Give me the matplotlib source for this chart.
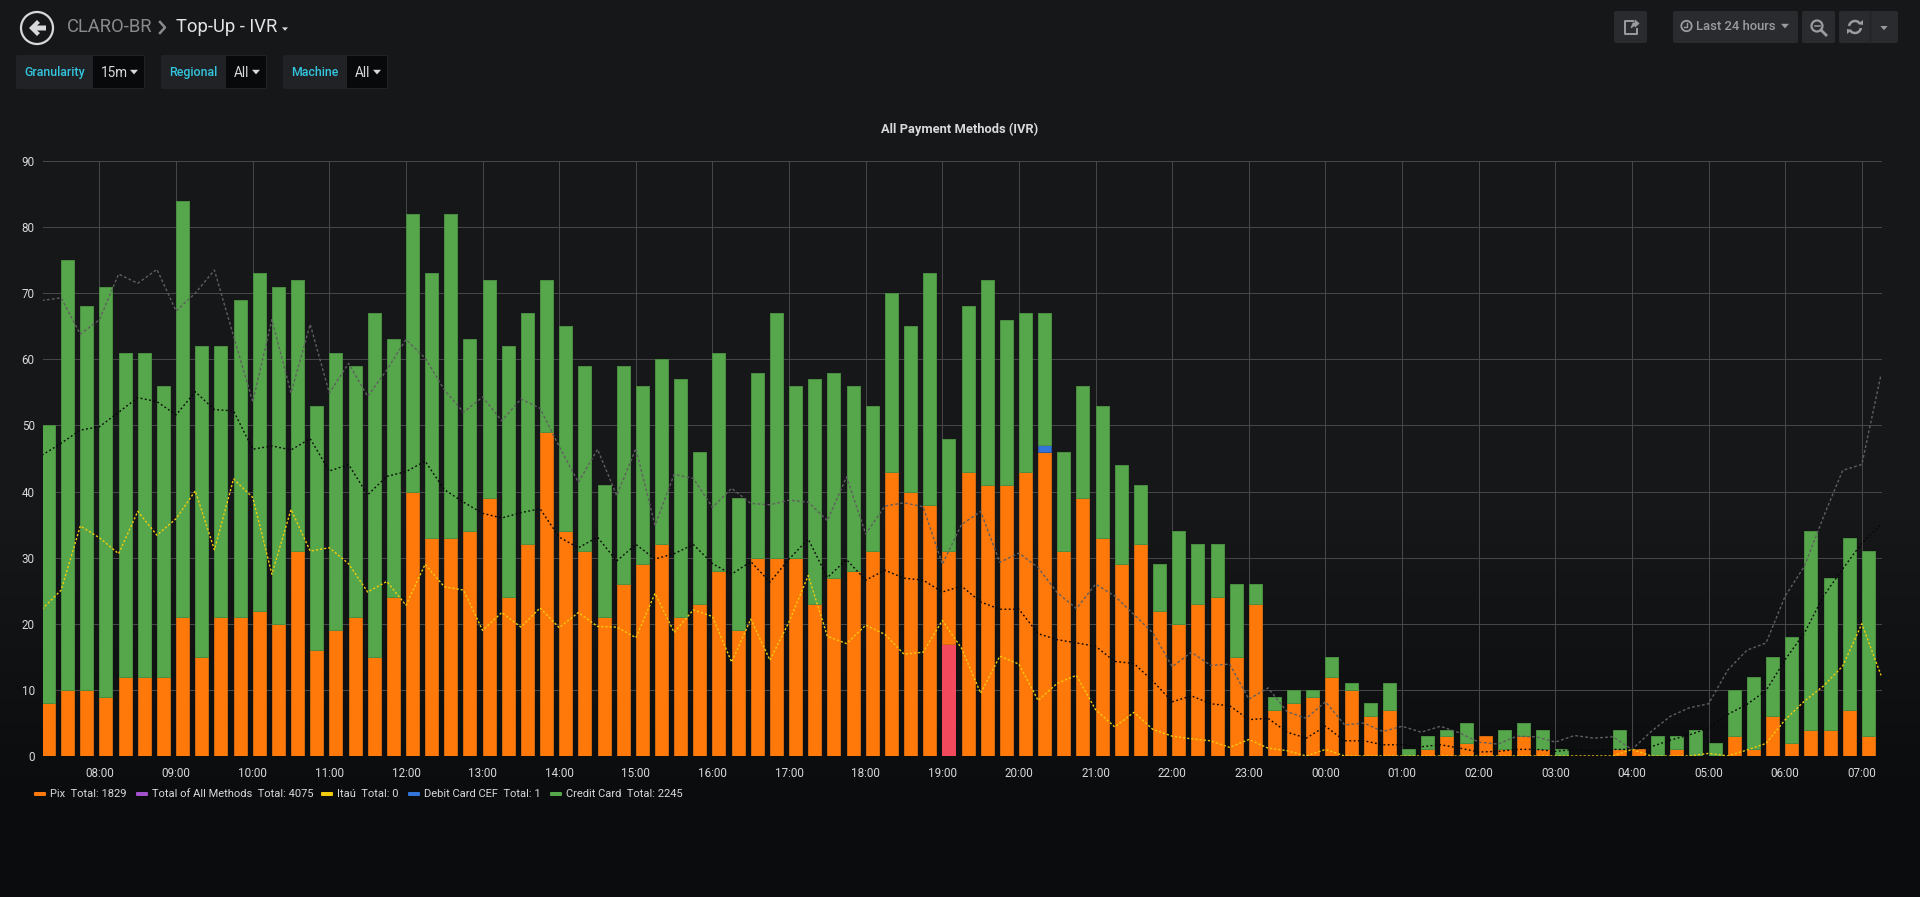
import numpy as np
import matplotlib
matplotlib.use("Agg")
import matplotlib.pyplot as plt
from matplotlib.patches import Rectangle, FancyBboxPatch, Polygon, Circle, Arc

plt.rcParams['font.family'] = ['Roboto', 'DejaVu Sans']

W, H = 1920, 897

# 15 minute buckets, 07:15 -> 07:00 next day
pix = [8, 10, 10, 9, 12, 12, 12, 21, 15, 21, 21, 22, 20, 31, 16, 19, 21, 15, 24, 40,
       33, 33, 34, 39, 24, 32, 49, 34, 31, 21, 26, 29, 32, 21, 23, 28, 19, 30, 30, 30,
       23, 27, 28, 31, 43, 40, 38, 14, 43, 41, 41, 43, 46, 31, 39, 33, 29, 32, 22, 20,
       23, 24, 15, 23, 7, 8, 9, 12, 10, 6, 7, 0, 1, 3, 2, 3, 1, 3, 1, 0,
       0, 0, 1, 1, 0, 1, 0, 0, 3, 1, 6, 2, 4, 4, 7, 3]
pink = [0] * 47 + [17] + [0] * 48
debit_cef = [0] * 52 + [1] + [0] * 43
bar_tops = [50, 75, 68, 71, 61, 61, 56, 84, 62, 62, 69, 73, 71, 72, 53, 61, 59, 67, 63, 82,
            73, 82, 63, 72, 62, 67, 72, 65, 59, 41, 59, 56, 60, 57, 46, 61, 39, 58, 67, 56,
            57, 58, 56, 53, 70, 65, 73, 48, 68, 72, 66, 67, 67, 46, 56, 53, 44, 41, 29, 34,
            32, 32, 26, 26, 9, 10, 10, 15, 11, 8, 11, 1, 3, 4, 5, 3, 4, 5, 4, 1,
            0, 0, 4, 1, 3, 3, 4, 2, 10, 12, 15, 18, 34, 27, 33, 31]

# comparison lines, one more point than bars (they run to 07:15)
grey_line = [68.9, 69.3, 63.8, 66, 72.9, 71.5, 73.6, 67.3, 70, 73.5, 63.5, 53.6, 66, 54.9, 65.3, 54.9,
             59.4, 54.4, 58.4, 63, 60.2, 55.4, 52, 54.3, 50.7, 54, 52.6, 46.8, 41.4, 46.4, 39.4, 46.5,
             34.9, 42.6, 42, 37.6, 40.5, 38.2, 38, 38.7, 38.4, 35.6, 42.2, 33.6, 37.8, 38.3, 37.7, 29,
             35, 37, 29.3, 30.7, 28.5, 24.7, 22.3, 26, 24.2, 21.4, 18.6, 13.5, 15.7, 13.7, 13.9, 8.6,
             10.3, 6.7, 5.7, 8.2, 4.7, 5, 3.7, 4.5, 3.6, 4.5, 3.5, 2.1, 1.8, 3, 2.9, 2.1,
             3.1, 2.7, 2.9, 1, 3.7, 6, 7.3, 7.9, 13, 16, 17.1, 24.2, 28.7, 36.2, 43.2, 44.1, 57.7]
black_line = [45.5, 47.3, 49.3, 49.8, 52, 54.2, 53.6, 51.6, 55.1, 52.4, 52.2, 46.4, 46.9, 46.3, 48, 43.1,
              44.1, 39.5, 42.3, 43, 44.6, 40.3, 38.4, 36.7, 36, 36.8, 37.4, 33.1, 31.5, 33.1, 29.5, 32,
              29.8, 30.6, 32, 29.1, 27.5, 29.4, 26.3, 29.8, 32.8, 27, 29.7, 26.6, 28.1, 26.9, 26.6, 24.8,
              25.7, 23.3, 22.2, 22.2, 18.5, 17.6, 17.1, 16.6, 14.3, 14, 11.3, 8.2, 9.1, 7.9, 7.6, 5.5,
              5.7, 3.6, 2.7, 4.5, 2.3, 2.3, 1.7, 1.7, 1.4, 1.7, 1.2, 0.6, 0.7, 1, 1, 0.7,
              1, 0.8, 1, 1, 1.4, 2.4, 3.2, 4.2, 6.3, 7.8, 9.9, 14.6, 18.6, 24.2, 28.3, 32.2, 35]
yellow_line = [22.2, 25.1, 34.8, 33, 30.6, 37, 33.4, 35.9, 40.1, 31.2, 41.9, 39.1, 27.5, 37.3, 31, 31.5,
               29.1, 24.8, 26.4, 22.8, 29, 25.6, 25.1, 19, 21.7, 19.5, 22.4, 19.4, 21.7, 19.6, 19.5, 17.9,
               24.6, 18.7, 22.1, 21.1, 14.2, 20.7, 14.5, 20.3, 27.3, 18.1, 17, 19.8, 18.4, 15.4, 15.7, 20.5,
               16.3, 9.5, 15.1, 13.9, 8.4, 11, 12.2, 7, 4.4, 6.6, 4, 3, 2.6, 2.3, 1.3, 2.5,
               1.2, 0.8, 0, 1, 0, 0, 0, 0, 0, 0, 0, 0, 0, 0, 0, 0,
               0, 0, 0, 1, 0, 0, 0, 0.4, 0, 0.9, 1.9, 5.5, 8.3, 10.6, 13.6, 20, 12.2]

hour_ticks = list(range(8, 32))
hour_labels = [f"{h % 24:02d}:00" for h in hour_ticks]
y_ticks = list(range(0, 100, 10))

legend_items = [("Pix  Total: 1829", "#ff780a", 34, 50),
                ("Total of All Methods  Total: 4075", "#a352cc", 136, 152),
                ("Itaú  Total: 0", "#f2cc0c", 321, 337),
                ("Debit Card CEF  Total: 1", "#3274d9", 408, 424),
                ("Credit Card  Total: 2245", "#56a64b", 550, 566)]

TEXT = "#d8d9da"
GREEN, ORANGE, BLUE, RED = "#56a64b", "#ff780a", "#3274d9", "#f2495c"
GREEN_EDGE, ORANGE_EDGE, BLUE_EDGE, RED_EDGE = "#4a8f42", "#d06a10", "#2a5aa5", "#f2495c"


def px(x, y, w, h):
    return [x / W, 1 - (y + h) / H, w / W, h / H]


def caret(ui, x, y, size, color):
    ui.add_patch(Polygon([(x - size, y - size * 0.55), (x + size, y - size * 0.55), (x, y + size * 0.6)],
                         closed=True, fc=color, ec="none"))


def button(ui, x0, x1, y0, y1, color):
    ui.add_patch(FancyBboxPatch((x0 + 2, y0 + 2), x1 - x0 - 4, y1 - y0 - 4, boxstyle="round,pad=2",
                                fc=color, ec="none"))


def draw_header(ui):
    # back button
    ui.add_patch(Circle((37, 28), 16, fc="none", ec=TEXT, lw=1.6))
    ui.add_patch(Polygon([(29, 28), (37, 20), (40, 23), (37, 25.5), (46, 25.5), (46, 30.5), (37, 30.5),
                          (40, 33), (37, 36)], closed=True, fc=TEXT, ec="none"))
    ui.text(67, 27, "CLARO-BR", color="#8a8b8d", fontsize=13.2, va="center")
    ui.plot([160, 165, 160], [22, 27.5, 33], color="#8a8b8d", lw=1.8)
    ui.text(176, 27, "Top-Up - IVR", color="#e3e4e5", fontsize=13.2, va="center")
    caret(ui, 285, 29, 3, TEXT)

    # template variables
    for name, value, x0, x1, x2, tx in [("Granularity", "15m", 16, 93, 145, 101),
                                        ("Regional", "All", 161, 226, 267, 234),
                                        ("Machine", "All", 283, 347, 388, 355)]:
        button(ui, x0, x2, 55, 89, "#212226")
        ui.add_patch(Rectangle((x1, 56), x2 - x1 - 1, 32, fc="#08090b", ec="none"))
        ui.text(x0 + 8.5, 72.5, name, color="#33c5dd", fontsize=8.9, fontweight="medium", va="center")
        ui.text(tx, 73, value, color=TEXT, fontsize=9.8, va="center")
        caret(ui, x2 - 11, 72, 4, TEXT)

    # top right buttons
    grey = "#9b9c9e"
    button(ui, 1614, 1647, 11, 43, "#2a2b2f")
    button(ui, 1673, 1798, 11, 43, "#2a2b2f")
    button(ui, 1802, 1835, 11, 43, "#2a2b2f")
    button(ui, 1839, 1898, 11, 43, "#2a2b2f")
    ui.plot([1870, 1870], [11, 43], color="#232427", lw=1)
    # share
    ui.plot([1633, 1625, 1625, 1637, 1637], [21, 21, 34, 34, 29], color=grey, lw=1.4)
    ui.add_patch(Polygon([(1631, 28), (1633, 23), (1635, 23), (1635, 20), (1639, 23.5), (1635, 27), (1635, 25)],
                         closed=True, fc=grey, ec=grey, lw=0.6))
    # clock
    ui.add_patch(Circle((1686.5, 26), 5.2, fc="none", ec=grey, lw=1.3))
    ui.plot([1686.5, 1686.5, 1684], [23, 27, 27], color=grey, lw=1)
    ui.text(1696, 26.5, "Last 24 hours", color=grey, fontsize=9.4, fontweight="medium", va="center")
    caret(ui, 1785, 26, 4, grey)
    # zoom out
    ui.add_patch(Circle((1817, 26), 5.5, fc="none", ec=grey, lw=1.6))
    ui.plot([1814.5, 1819.5], [26, 26], color=grey, lw=1.1)
    ui.plot([1821, 1826], [30, 35], color=grey, lw=2)
    # refresh
    ui.add_patch(Arc((1855, 27), 12, 12, theta1=190, theta2=330, ec=grey, lw=1.8))
    ui.add_patch(Arc((1855, 27), 12, 12, theta1=10, theta2=150, ec=grey, lw=1.8))
    ui.add_patch(Polygon([(1858, 24), (1863, 20), (1863, 25)], closed=True, fc=grey, ec="none"))
    ui.add_patch(Polygon([(1852, 30), (1847, 34), (1847, 29)], closed=True, fc=grey, ec="none"))
    caret(ui, 1884, 28, 3.6, grey)


def draw_legend(ui):
    for label, color, swatch_x, text_x in legend_items:
        ui.add_patch(FancyBboxPatch((swatch_x + 1, 793), 10, 2, boxstyle="round,pad=1", fc=color, ec="none"))
        ui.text(text_x, 794, label, color=TEXT, fontsize=8.05, va="center")


def stacked(ax, t, values, bottoms, width, color, edge):
    vals = np.array(values, dtype=float)
    keep = vals > 0
    ax.bar(t[keep], vals[keep], width=width, bottom=bottoms[keep], align="edge",
           color=color, edgecolor=edge, linewidth=0.7, zorder=3)
    return bottoms + vals


def main():
    fig = plt.figure(figsize=(W / 100, H / 100), dpi=100)
    ui = fig.add_axes([0, 0, 1, 1])
    ui.set_xlim(0, W)
    ui.set_ylim(H, 0)
    ui.axis("off")

    # page gradient, flat at the top and bottom
    shade = np.interp(np.arange(H), [0, 520, 800, H], [0, 0, 1, 1])[:, None, None]
    top = np.array([0x16, 0x17, 0x19]) / 255
    bottom = np.array([0x0b, 0x0c, 0x0e]) / 255
    ui.imshow(top + (bottom - top) * shade, extent=(0, W, H, 0), aspect="auto", zorder=0)

    draw_header(ui)
    draw_legend(ui)
    ui.text(960, 129, "All Payment Methods (IVR)", color=TEXT, fontsize=9.3, fontweight="bold",
            ha="center", va="center")

    ax = fig.add_axes(px(43, 161, 1839, 595))
    ax.patch.set_alpha(0)
    t = 7.25 + np.arange(len(pix)) * 0.25
    line_t = 7.25 + np.arange(len(grey_line)) * 0.25
    width = 0.17

    level = np.zeros(len(pix))
    level = stacked(ax, t, pink, level, width, RED, RED_EDGE)
    level = stacked(ax, t, pix, level, width, ORANGE, ORANGE_EDGE)
    level = stacked(ax, t, debit_cef, level, width, BLUE, BLUE_EDGE)
    credit = np.array(bar_tops) - level
    stacked(ax, t, credit, level, width, GREEN, GREEN_EDGE)

    ax.plot(line_t, grey_line, color="#5f5f60", lw=1, ls=(0, (2, 1.6)), zorder=4)
    ax.plot(line_t, black_line, color="#050505", lw=1, ls=(0, (1.3, 1.8)), zorder=4)
    ax.plot(line_t, yellow_line, color="#f2cc0c", lw=1, ls=(0, (1.6, 1.4)), zorder=5)

    ax.set_xlim(7.263, 31.263)
    ax.set_ylim(0, 90)
    ax.set_xticks(hour_ticks, hour_labels)
    ax.set_yticks(y_ticks)
    ax.grid(True, color="#464647", lw=0.75, zorder=1)
    ax.set_axisbelow(True)
    ax.tick_params(length=0, colors=TEXT, labelsize=8.4, pad=6)
    ax.tick_params(axis="x", pad=8)
    for side in ax.spines.values():
        side.set_visible(False)

    fig.savefig("out.png", dpi=100, facecolor="#161719")


main()
